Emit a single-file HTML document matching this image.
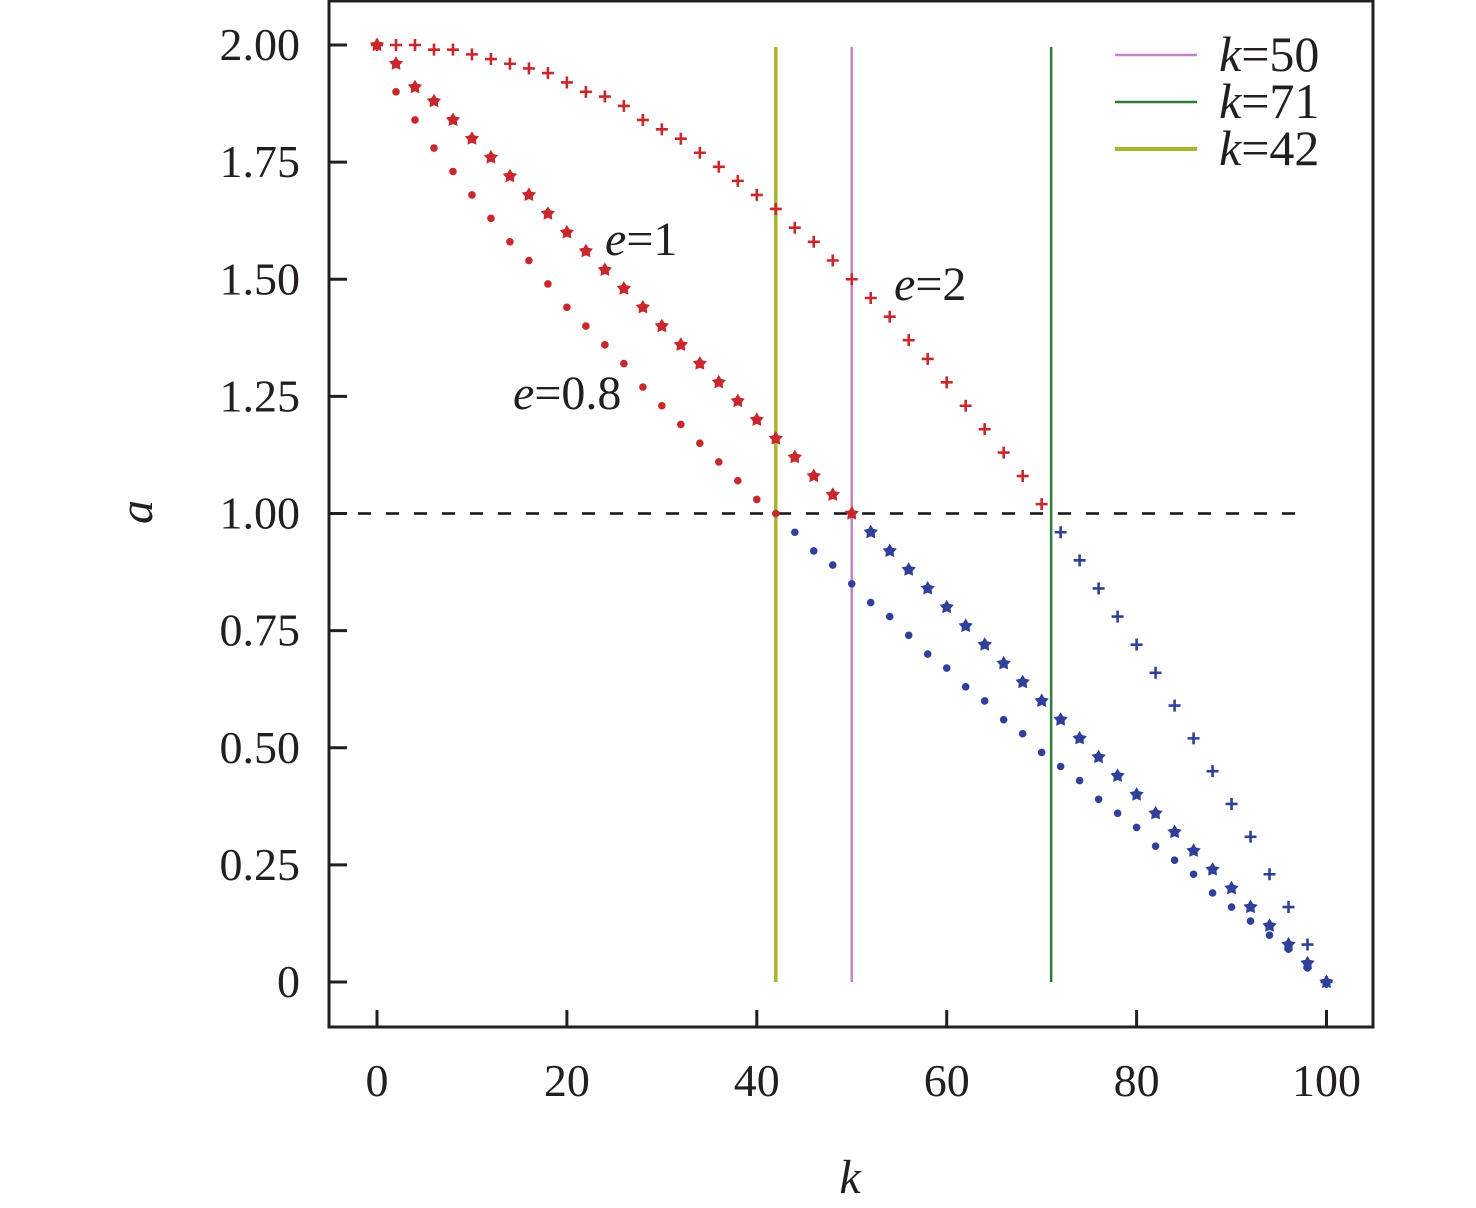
<!DOCTYPE html>
<html><head><meta charset="utf-8"><style>
html,body{margin:0;padding:0;background:#fff}
svg{display:block}
text{font-family:"Liberation Serif","Times New Roman",serif;fill:#231f20}
</style></head><body>
<svg id="chart" width="1476" height="1208" viewBox="0 0 1476 1208" xmlns="http://www.w3.org/2000/svg">
<g id="marks"></g>
<g id="axes"></g>
</svg>
<script>
const kValues = [0,2,4,6,8,10,12,14,16,18,20,22,24,26,28,30,32,34,36,38,40,42,44,46,48,50,52,54,56,58,60,62,64,66,68,70,72,74,76,78,80,82,84,86,88,90,92,94,96,98,100];
const seriesE2 = [2.00,2.00,2.00,1.99,1.99,1.98,1.97,1.96,1.95,1.94,1.92,1.90,1.89,1.87,1.84,1.82,1.80,1.77,1.74,1.71,1.68,1.65,1.61,1.58,1.54,1.50,1.46,1.42,1.37,1.33,1.28,1.23,1.18,1.13,1.08,1.02,0.96,0.90,0.84,0.78,0.72,0.66,0.59,0.52,0.45,0.38,0.31,0.23,0.16,0.08,0.00];
const seriesE1 = [2.00,1.96,1.91,1.88,1.84,1.80,1.76,1.72,1.68,1.64,1.60,1.56,1.52,1.48,1.44,1.40,1.36,1.32,1.28,1.24,1.20,1.16,1.12,1.08,1.04,1.00,0.96,0.92,0.88,0.84,0.80,0.76,0.72,0.68,0.64,0.60,0.56,0.52,0.48,0.44,0.40,0.36,0.32,0.28,0.24,0.20,0.16,0.12,0.08,0.04,0.00];
const seriesE08 = [2.00,1.90,1.84,1.78,1.73,1.68,1.63,1.58,1.54,1.49,1.44,1.40,1.36,1.32,1.27,1.23,1.19,1.15,1.11,1.07,1.03,1.00,0.96,0.92,0.89,0.85,0.81,0.78,0.74,0.70,0.67,0.63,0.60,0.56,0.53,0.49,0.46,0.43,0.39,0.36,0.33,0.29,0.26,0.23,0.19,0.16,0.13,0.10,0.07,0.03,0.00];
const xTicks = [0,20,40,60,80,100];
const xTickLabels = ["0","20","40","60","80","100"];
const yTicks = [0,0.25,0.5,0.75,1,1.25,1.5,1.75,2];
const yTickLabels = ["0","0.25","0.50","0.75","1.00","1.25","1.50","1.75","2.00"];
const refLinesK = [50,71,42];
const refLineColors = ["#c384c9","#2f7a37","#a9b52a"];
const refLineLabels = ["50","71","42"];
const threshold = 1;

const NS="http://www.w3.org/2000/svg";
function x(k){return 377+k*9.495;}
function y(a){return 982-a*468.5;}
const marks=document.getElementById('marks');
const axes=document.getElementById('axes');
function mk(tag,attrs,parent){const e=document.createElementNS(NS,tag);for(const k in attrs)e.setAttribute(k,attrs[k]);parent.appendChild(e);return e;}
const RED="#c8282c", BLUE="#30409a";

refLinesK.forEach((k,i)=>{
  const l=mk('line',{x1:x(k),x2:x(k),y1:47,y2:982,stroke:refLineColors[i],'stroke-width':i==2?3.5:2.5},marks);
  
  
});
const dl=mk('line',{x1:330,x2:1308,y1:y(threshold),y2:y(threshold),stroke:'#111','stroke-width':2.5,'stroke-dasharray':'13 15'},marks);



function starPath(cx,cy,r){let d='';for(let i=0;i<10;i++){const rr=i%2?r*0.55:r;const ang=-Math.PI/2+i*Math.PI/5;d+=(i?'L':'M')+(cx+rr*Math.cos(ang)).toFixed(1)+' '+(cy+rr*Math.sin(ang)).toFixed(1);}return d+'Z';}

kValues.forEach((k,i)=>{
  let v=seriesE08[i];
  const c=mk('circle',{cx:x(k),cy:y(v),r:3.8,fill:v>=threshold?RED:BLUE},marks);
  
  
  v=seriesE1[i];
  const s=mk('path',{d:starPath(x(k),y(v),7.5),fill:v>=threshold?RED:BLUE},marks);
  
  
  v=seriesE2[i];
  const px=x(k),py=y(v);
  const p=mk('path',{d:`M${px-6} ${py}H${px+6}M${px} ${py-6}V${py+6}`,stroke:v>=threshold?RED:BLUE,'stroke-width':2.6,fill:'none'},marks);
  
  
});

const fr=mk('rect',{x:329,y:1,width:1044,height:1026,fill:'none',stroke:'#231f20','stroke-width':3},axes);


xTicks.forEach((t,i)=>{
  const tl=mk('line',{x1:x(t),x2:x(t),y1:1027,y2:1010,stroke:'#231f20','stroke-width':3},axes);
  
  
  const tx=mk('text',{x:x(t),y:1096,'text-anchor':'middle','font-size':46},axes);
  tx.textContent=xTickLabels[i];
  
  
});
yTicks.forEach((t,i)=>{
  const tl=mk('line',{x1:329,x2:347,y1:y(t),y2:y(t),stroke:'#231f20','stroke-width':3},axes);
  
  
  const tx=mk('text',{x:300,y:y(t)+15,'text-anchor':'end','font-size':46},axes);
  tx.textContent=yTickLabels[i];
  
  
});
const lgY=[55,102,149];
refLinesK.forEach((k,i)=>{
  const l=mk('line',{x1:1115,x2:1197,y1:lgY[i],y2:lgY[i],stroke:refLineColors[i],'stroke-width':i==2?4:2.5},axes);
  
  
  const t=mk('text',{x:1219,y:lgY[i]+16,'font-size':50},axes);
  t.innerHTML='<tspan font-style="italic">k</tspan>='+refLineLabels[i];
  
  
});
</script>
<svg style="position:absolute;left:0;top:0" width="1476" height="1208">
<text x="605" y="255" font-size="48"><tspan font-style="italic">e</tspan>=1</text>
<text x="894" y="300" font-size="48"><tspan font-style="italic">e</tspan>=2</text>
<text x="513" y="409" font-size="48"><tspan font-style="italic">e</tspan>=0.8</text>
<text x="0" y="0" font-size="48" font-style="italic" text-anchor="middle" transform="translate(152,512) rotate(-90)">a</text>
<text x="850" y="1193" font-size="48" font-style="italic" text-anchor="middle">k</text>
</svg>
</body></html>
